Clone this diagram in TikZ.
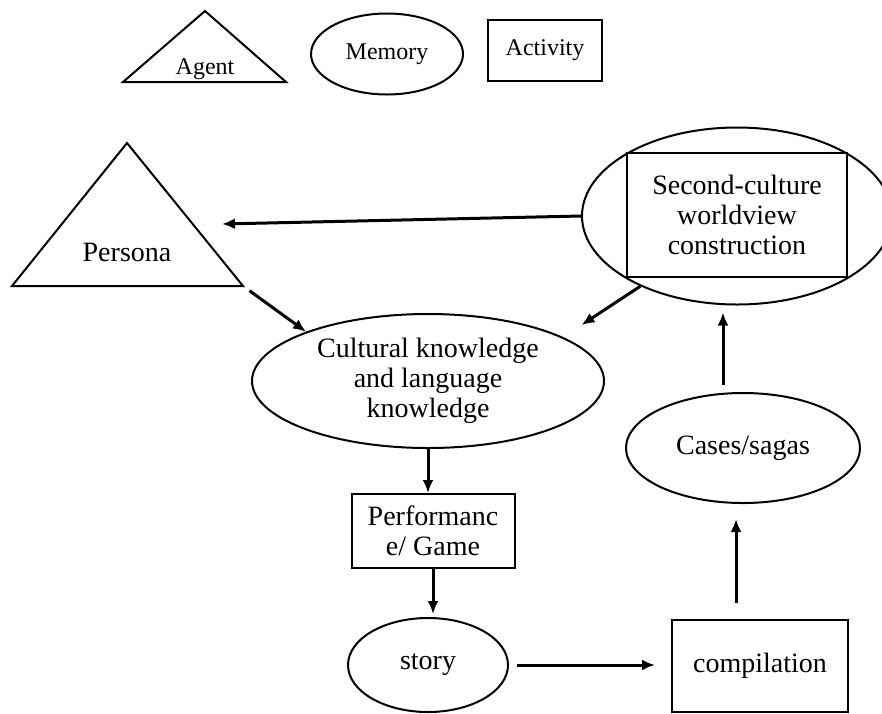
\documentclass[tikz,border=0pt]{standalone}
\usepackage{fontspec}
\setmainfont{Liberation Serif}
\usetikzlibrary{arrows.meta,shapes.geometric}

\begin{document}
\begin{tikzpicture}[x=1pt, y=-1pt,
    font=\fontsize{28}{30}\selectfont,
    oval/.style={ellipse, draw, line width=2pt, inner sep=0pt, align=center},
    box/.style={rectangle, draw, line width=2pt, inner sep=0pt, align=center},
    keytext/.style={font=\fontsize{24}{28}\selectfont},
    arr/.style={-{Latex[length=13pt,width=11pt]}, line width=3pt}]
  \useasboundingbox (0,0) rectangle (882,713);
  % key
  \draw[line width=2pt] (123,82) -- (205,11) -- (286,82) -- cycle;
  \node[keytext] (agentkey) at (205,69) {Agent};
  \node[oval, keytext, minimum width=152pt, minimum height=81pt] (memkey) at (387,54) {Memory};
  \node[box, keytext, minimum width=114pt, minimum height=61pt] (actkey) at (545,50) {Activity};

  % persona
  \draw[line width=2pt] (12,286) -- (127,143) -- (243,286) -- cycle;
  \coordinate (pcorner) at (243,286);
  \coordinate (ptip) at (222,224);
  \node (persona) at (127,252) {Persona};

  % second-culture worldview
  \node[oval, minimum width=310pt, minimum height=177pt] (world) at (737,216) {};
  \node[box, minimum width=220pt, minimum height=124pt] (worldbox) at (737,215)
    {Second-culture\\worldview\\construction};

  \node[oval, minimum width=352pt, minimum height=134pt] (know) at (428,381)
    {Cultural knowledge\\and language\\knowledge};
  \node[box, minimum width=163pt, minimum height=74pt] (perf) at (433,531)
    {Performanc\\e/ Game};
  \node[oval, minimum width=160pt, minimum height=94pt] (story) at (428,665) {story};
  \node[box, minimum width=176pt, minimum height=92pt] (comp) at (760,666) {compilation};
  \node[oval, minimum width=234pt, minimum height=110pt] (cases) at (743,448) {Cases/sagas};

  % arrows
  \draw[arr] (world.west) -- (ptip);
  \draw[arr, shorten <=8pt] (pcorner) -- (know.158);
  \draw[arr, shorten >=22pt] (world.216) -- (know.18);
  \draw[arr] (know.south) -- (know.south |- perf.north);
  \draw[arr, shorten >=3pt] (perf.south) -- (perf.south |- story.north);
  \draw[arr, shorten <=8pt, shorten >=16pt] (story.east) -- (story.east -| comp.west);
  \draw[arr, shorten <=16pt, shorten >=15pt] ([xshift=-24pt]comp.north) -- ([xshift=-24pt]comp.north |- cases.south);
  \draw[arr, shorten <=7pt, shorten >=7pt] ([xshift=-20pt]cases.north) -- ([xshift=-20pt]cases.north |- world.south);
\end{tikzpicture}
\end{document}
